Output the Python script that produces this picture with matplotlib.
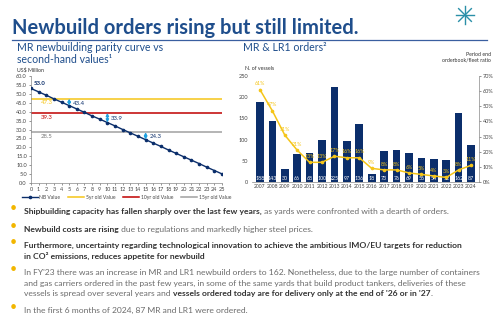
import numpy as np
import matplotlib
matplotlib.use("Agg")
import matplotlib.pyplot as plt
from matplotlib.lines import Line2D

plt.rcParams['font.family'] = ['Lato', 'DejaVu Sans']

# left chart: newbuilding parity curve
ages = list(range(26))
nb_value = [53.0, 51.1, 49.2, 47.2, 45.3, 43.4, 41.5, 39.6, 37.6, 35.8, 33.9,
            32.0, 30.0, 28.1, 26.2, 24.3, 22.4, 20.5, 18.5, 16.6, 14.7, 12.8,
            10.9, 8.9, 7.0, 5.1]
val_5yr = 47.3
val_10yr = 39.3
val_15yr = 28.5

# right chart: MR & LR1 orders
years = [str(y) for y in range(2007, 2025)]
orders = [188, 143, 30, 66, 68, 100, 225, 97, 136, 18, 73, 76, 69, 56, 54, 52, 162, 87]
ob_ratio = [61, 47, 31, 21, 13, 13, 17, 16, 16, 9, 8, 8, 6, 5, 4, 3, 8, 11]

NAVY = '#0b2e6b'
BLUE = '#1f4e8c'
GOLD = '#f5c518'
RED = '#c00000'
GREY = '#a0a0a0'
ARROW = '#1fa0e0'

W, H = 500, 326
fig = plt.figure(figsize=(5, 3.26), dpi=100)

def fx(px):
    return px / W

def fy(py):
    return 1 - py / H

# title + rule
fig.text(fx(12), fy(34), 'Newbuild orders rising but still limited.', fontsize=14.5,
         fontweight='bold', color=BLUE, va='baseline')
fig.add_artist(Line2D([fx(12), fx(487)], [fy(40), fy(40)], color='#3a5fa0', lw=0.9))

# little logo
for ang in np.arange(0, 180, 45):
    a = np.deg2rad(ang)
    fig.add_artist(Line2D([fx(465 - 9 * np.cos(a)), fx(465 + 9 * np.cos(a))],
                          [fy(15 - 9 * np.sin(a)), fy(15 + 9 * np.sin(a))],
                          color='#2a8fa8', lw=1.0))

fig.text(fx(17), fy(51), 'MR newbuilding parity curve vs', fontsize=7.6, color=BLUE, va='baseline')
fig.text(fx(17), fy(63), 'second-hand values¹', fontsize=7.6, color=BLUE, va='baseline')
fig.text(fx(243), fy(51), 'MR & LR1 orders²', fontsize=7.6, color=BLUE, va='baseline')
fig.text(fx(17), fy(71), 'US$ Million', fontsize=3.8, color='#333', va='baseline')

# ---- left chart
ax1 = fig.add_axes([fx(31), fy(183), fx(222 - 31), (183 - 76) / H])
ax1.plot(ages, nb_value, color=NAVY, lw=1.0, marker='o', ms=1.6, label='NB Value', zorder=4)
ax1.axhline(val_5yr, color=GOLD, lw=1.1, label='5yr old Value')
ax1.axhline(val_10yr, color=RED, lw=1.1, label='10yr old Value')
ax1.axhline(val_15yr, color=GREY, lw=1.1, label='15yr old Value')
ax1.set_xlim(0, 25)
ax1.set_ylim(0, 60)
ax1.set_xticks(ages)
ax1.set_yticks(np.arange(0, 61, 5))
ax1.set_yticklabels([f'{v:.1f}' for v in np.arange(0, 61, 5)])
ax1.tick_params(labelsize=4, length=1.5, width=0.4, pad=1.5, colors='#444')
for s in ['top', 'right']:
    ax1.spines[s].set_visible(False)
for s in ['left', 'bottom']:
    ax1.spines[s].set_color('#888')
    ax1.spines[s].set_linewidth(0.5)

ax1.text(0.35, nb_value[0] + 2, f'{nb_value[0]:.1f}', fontsize=4.3, color=NAVY, fontweight='bold')
ax1.text(1.3, val_5yr - 3.2, f'{val_5yr:.1f}', fontsize=4.3, color=GOLD)
ax1.text(1.3, val_10yr - 3.2, f'{val_10yr:.1f}', fontsize=4.3, color=RED)
ax1.text(1.3, val_15yr - 3.2, f'{val_15yr:.1f}', fontsize=4.3, color='#777')
for age, ref in [(5, val_5yr), (10, val_10yr), (15, val_15yr)]:
    ax1.annotate('', xy=(age, nb_value[age]), xytext=(age, ref),
                 arrowprops=dict(arrowstyle='<|-|>', color=ARROW, lw=1.0,
                                 mutation_scale=4, shrinkA=0, shrinkB=0), zorder=5)
    ax1.text(age + 0.5, (nb_value[age] + ref) / 2 - 0.5, f'{nb_value[age]:.1f}',
             fontsize=4.3, color=NAVY, va='center')
leg = ax1.legend(loc='upper center', bbox_to_anchor=(0.5, -0.07), ncol=4, frameon=False,
                 fontsize=3.6, handlelength=3.2, columnspacing=1.6, handletextpad=0.3,
                 labelcolor='#444')

# ---- right chart
ax2 = fig.add_axes([fx(252.5), fy(182), fx(478.5 - 252.5), (182 - 76) / H])
x = np.arange(len(years))
ax2.bar(x, orders, width=0.62, color=NAVY, zorder=2)
ax2.set_xlim(-0.6, len(years) - 0.4)
ax2.set_ylim(0, 250)
ax2.set_yticks(range(0, 251, 50))
ax2.set_xticks(x)
ax2.set_xticklabels(years)
ax2.tick_params(axis='y', labelsize=4, length=0, pad=3, colors='#444')
ax2.tick_params(axis='x', labelsize=3.6, length=0, pad=1.5, colors='#444')
for s in ['top', 'right', 'left']:
    ax2.spines[s].set_visible(False)
ax2.spines['bottom'].set_color('#888')
ax2.spines['bottom'].set_linewidth(0.5)
for xi, v in zip(x, orders):
    ax2.text(xi, 3, str(v), fontsize=3.8, color='white', ha='center', va='bottom', zorder=3)

ax3 = ax2.twinx()
ax3.plot(x, ob_ratio, color=GOLD, lw=1.1, marker='o', ms=1.6, zorder=4)
ax3.set_ylim(0, 70)
ax3.set_yticks(range(0, 71, 10))
ax3.set_yticklabels([f'{v}%' for v in range(0, 71, 10)])
ax3.tick_params(axis='y', labelsize=4, length=1.5, width=0.4, pad=1.5, colors='#444')
for s in ['top', 'left', 'bottom']:
    ax3.spines[s].set_visible(False)
ax3.spines['right'].set_color('#888')
ax3.spines['right'].set_linewidth(0.5)
for xi, v in zip(x, ob_ratio):
    ax3.text(xi, v + 2.2, f'{v}%', fontsize=3.8, color=GOLD, ha='center', va='bottom', zorder=5)

fig.text(fx(245), fy(70), 'N. of vessels', fontsize=3.8, color='#333', va='baseline')
fig.text(fx(491), fy(62), 'Period end\norderbook/fleet ratio', fontsize=3.8, color='#333',
         ha='right', va='baseline', linespacing=1.2)

# ---- bullets
DARK = '#333333'
LIGHT = '#6b6b6b'
bullets = [
    (214, [[('Shipbuilding capacity has fallen sharply over the last few years,', 'bold', DARK),
            (' as yards were confronted with a dearth of orders.', 'normal', LIGHT)]]),
    (232, [[('Newbuild costs are rising', 'bold', DARK),
            (' due to regulations and markedly higher steel prices.', 'normal', LIGHT)]]),
    (248, [[('Furthermore, uncertainty regarding technological innovation to achieve the ambitious IMO/EU targets for reduction', 'bold', DARK)],
           [('in CO² emissions, reduces appetite for newbuild', 'bold', DARK)]]),
    (275, [[("In FY'23 there was an increase in MR and LR1 newbuild orders to 162. Nonetheless, due to the large number of containers", 'normal', LIGHT)],
           [('and gas carriers ordered in the past few years, in some of the same yards that build product tankers, deliveries of these', 'normal', LIGHT)],
           [('vessels is spread over several years and ', 'normal', LIGHT),
            ("vessels ordered today are for delivery only at the end of '26 or in '27", 'bold', DARK),
            ('.', 'normal', LIGHT)]]),
    (313, [[('In the first 6 months of 2024, 87 MR and LR1 were ordered.', 'normal', LIGHT)]]),
]
line_gap = 10.5
FS = 6.1
for y0, lines in bullets:
    fig.text(fx(10), fy(y0 - 2), '•', fontsize=9, color='#f2b600', va='baseline')
    for i, parts in enumerate(lines):
        prev = None
        for txt, wt, col in parts:
            if prev is None:
                prev = fig.text(fx(24), fy(y0 + i * line_gap), txt, fontsize=FS,
                                fontweight=wt, color=col, va='baseline')
            else:
                prev = fig.text(prev_bb.x1 / fig.bbox.width, fy(y0 + i * line_gap), txt,
                                fontsize=FS, fontweight=wt, color=col, va='baseline')
            fig.canvas.draw()
            prev_bb = prev.get_window_extent()

fig.savefig('out.png', dpi=100)
